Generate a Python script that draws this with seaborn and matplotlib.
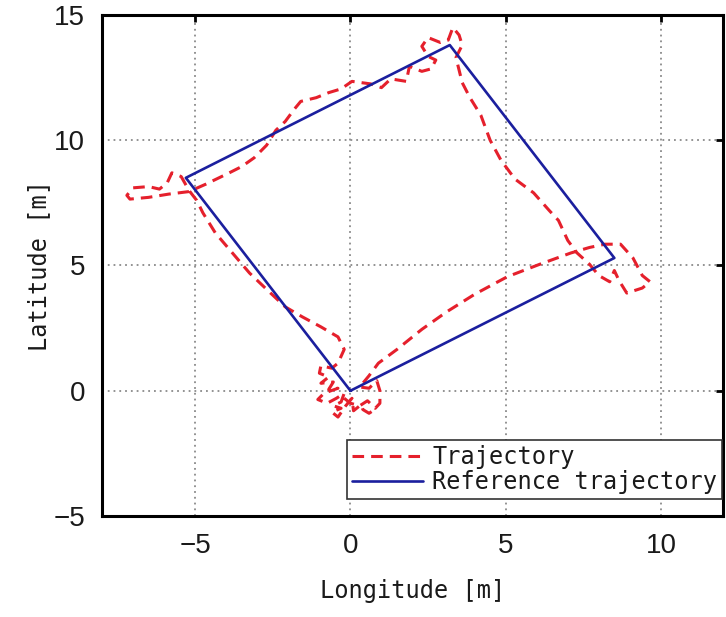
import matplotlib
matplotlib.use("Agg")
import matplotlib.pyplot as plt
import seaborn as sb

# reference square (corners, closed)
ref_lon = [0.0, 8.5, 3.2, -5.3, 0.0]
ref_lat = [0.0, 5.3, 13.8, 8.5, 0.0]

traj_lon = [-0.2, 0.0, 0.3, 0.55, 0.8, 0.95, 0.95, 0.85, 0.6, 0.3, 0.6, 0.9, 1.5, 2.3,
            3.1, 4.0, 5.05, 6.1, 7.1, 7.7, 8.2, 8.7, 9.1, 9.4, 9.65, 9.4, 8.9, 8.65,
            8.5, 8.35, 8.0, 7.7, 7.3, 7.0, 6.7, 6.4, 5.9, 5.3, 4.85, 4.5, 4.2, 3.85,
            3.6, 3.4, 3.6, 3.5, 3.3, 3.15, 2.9, 2.5, 2.3, 2.5, 2.75, 2.6, 2.3, 1.9,
            1.8, 1.3, 1.0, 0.65, 0.05, -0.3, -0.7, -1.1, -1.6, -1.8, -2.1, -2.4, -2.7,
            -3.1, -3.5, -3.9, -4.65, -5.2, -5.85, -6.5, -7.1, -7.2, -7.0, -6.5, -6.15,
            -5.9, -5.75, -5.45, -5.2, -4.95, -4.75, -4.35, -3.8, -3.25, -2.7, -2.1,
            -1.55, -0.95, -0.4, -0.2, -0.4, -0.6, -0.95, -1.0, -0.7, -0.95, -0.55,
            -0.7, -0.4, -0.85, -1.05, -0.75, -0.45, -0.2, -0.3, -0.55, -0.3, -0.6,
            -0.4, -0.15, 0.05, 0.1, 0.35, 0.4, 0.6, 0.85]
traj_lat = [-0.3, -0.5, -0.6, -0.4, -0.7, -0.5, 0.0, 0.4, 0.1, 0.15, 0.6, 1.1, 1.65, 2.45,
            3.15, 3.85, 4.55, 5.05, 5.5, 5.72, 5.85, 5.85, 5.3, 4.6, 4.35, 4.1, 3.9, 4.4,
            4.8, 4.35, 4.6, 5.05, 5.5, 6.0, 6.8, 7.2, 7.9, 8.45, 9.2, 10.0, 11.0, 11.7,
            12.3, 13.3, 13.8, 14.2, 14.5, 14.0, 13.9, 14.1, 13.75, 13.35, 13.2, 12.85, 12.75, 12.95,
            12.35, 12.45, 12.1, 12.25, 12.35, 12.05, 11.9, 11.7, 11.55, 11.25, 10.75, 10.4, 9.8,
            9.3, 8.95, 8.7, 8.25, 7.95, 7.85, 7.72, 7.65, 7.8, 8.1, 8.15, 8.05,
            8.3, 8.7, 8.55, 8.0, 7.6, 7.1, 6.3, 5.5, 4.7, 4.05, 3.35,
            2.95, 2.55, 2.15, 1.65, 1.1, 0.9, 1.0, 0.7, 0.55, 0.3, 0.35,
            0.05, 0.1, -0.1, -0.35, -0.5, -0.3, -0.1, -0.45, -0.6, -0.7, -0.85,
            -1.05, -0.6, -0.3, -0.8, -0.55, -0.75, -0.9, -0.7]

x_ticks = [-5, 0, 5, 10]
y_ticks = [-5, 0, 5, 10, 15]

sb.set_style("white")
plt.rcParams['font.family'] = ['DejaVu Sans']

fig = plt.figure(figsize=(7.26, 6.17), dpi=100)
ax = fig.add_axes([0.1405, 0.1637, 0.8554, 0.812])

sb.lineplot(x=traj_lon, y=traj_lat, sort=False, estimator=None, ax=ax,
            color="#e5202c", linewidth=2.2, linestyle=(0, (3.8, 2.3)),
            label="Trajectory")
sb.lineplot(x=ref_lon, y=ref_lat, sort=False, estimator=None, ax=ax,
            color="#1b1f9e", linewidth=1.9, label="Reference trajectory")

ax.set_xlim(-8, 12)
ax.set_ylim(-5, 15)
ax.set_xticks(x_ticks)
ax.set_yticks(y_ticks)
ax.set_xticklabels([str(v).replace("-", "\u2212") for v in x_ticks])
ax.set_yticklabels([str(v).replace("-", "\u2212") for v in y_ticks])

ax.grid(True, linestyle=(0, (1, 2.2)), color="#8a8a8a", linewidth=1.3)
ax.tick_params(direction="in", length=5, width=2, top=True, right=True,
               labelsize=20, pad=12, colors="black")
for lab in ax.get_xticklabels() + ax.get_yticklabels():
    lab.set_family(["Liberation Sans Narrow", "Liberation Sans", "DejaVu Sans"])
    lab.set_color("#1a1a1a")
for sp in ax.spines.values():
    sp.set_visible(True)
    sp.set_color("black")
    sp.set_linewidth(2.2)

mono = ["DejaVu Sans Mono"]
ax.set_xlabel("Longitude [m]", fontsize=17, family=mono, labelpad=15, color="#1a1a1a")
ax.set_ylabel("Latitude [m]", fontsize=17, family=mono, labelpad=2, color="#1a1a1a")

leg = ax.legend(loc="lower right", bbox_to_anchor=(0.998, 0.034), borderaxespad=0,
                prop={"family": mono, "size": 17}, handlelength=3.0,
                handletextpad=0.4, labelspacing=0.05, borderpad=0.2,
                fancybox=False, framealpha=1, edgecolor="#333333")
leg.get_frame().set_linewidth(1.2)
for t in leg.get_texts():
    t.set_color("#1a1a1a")

fig.savefig("out.png", dpi=100)
